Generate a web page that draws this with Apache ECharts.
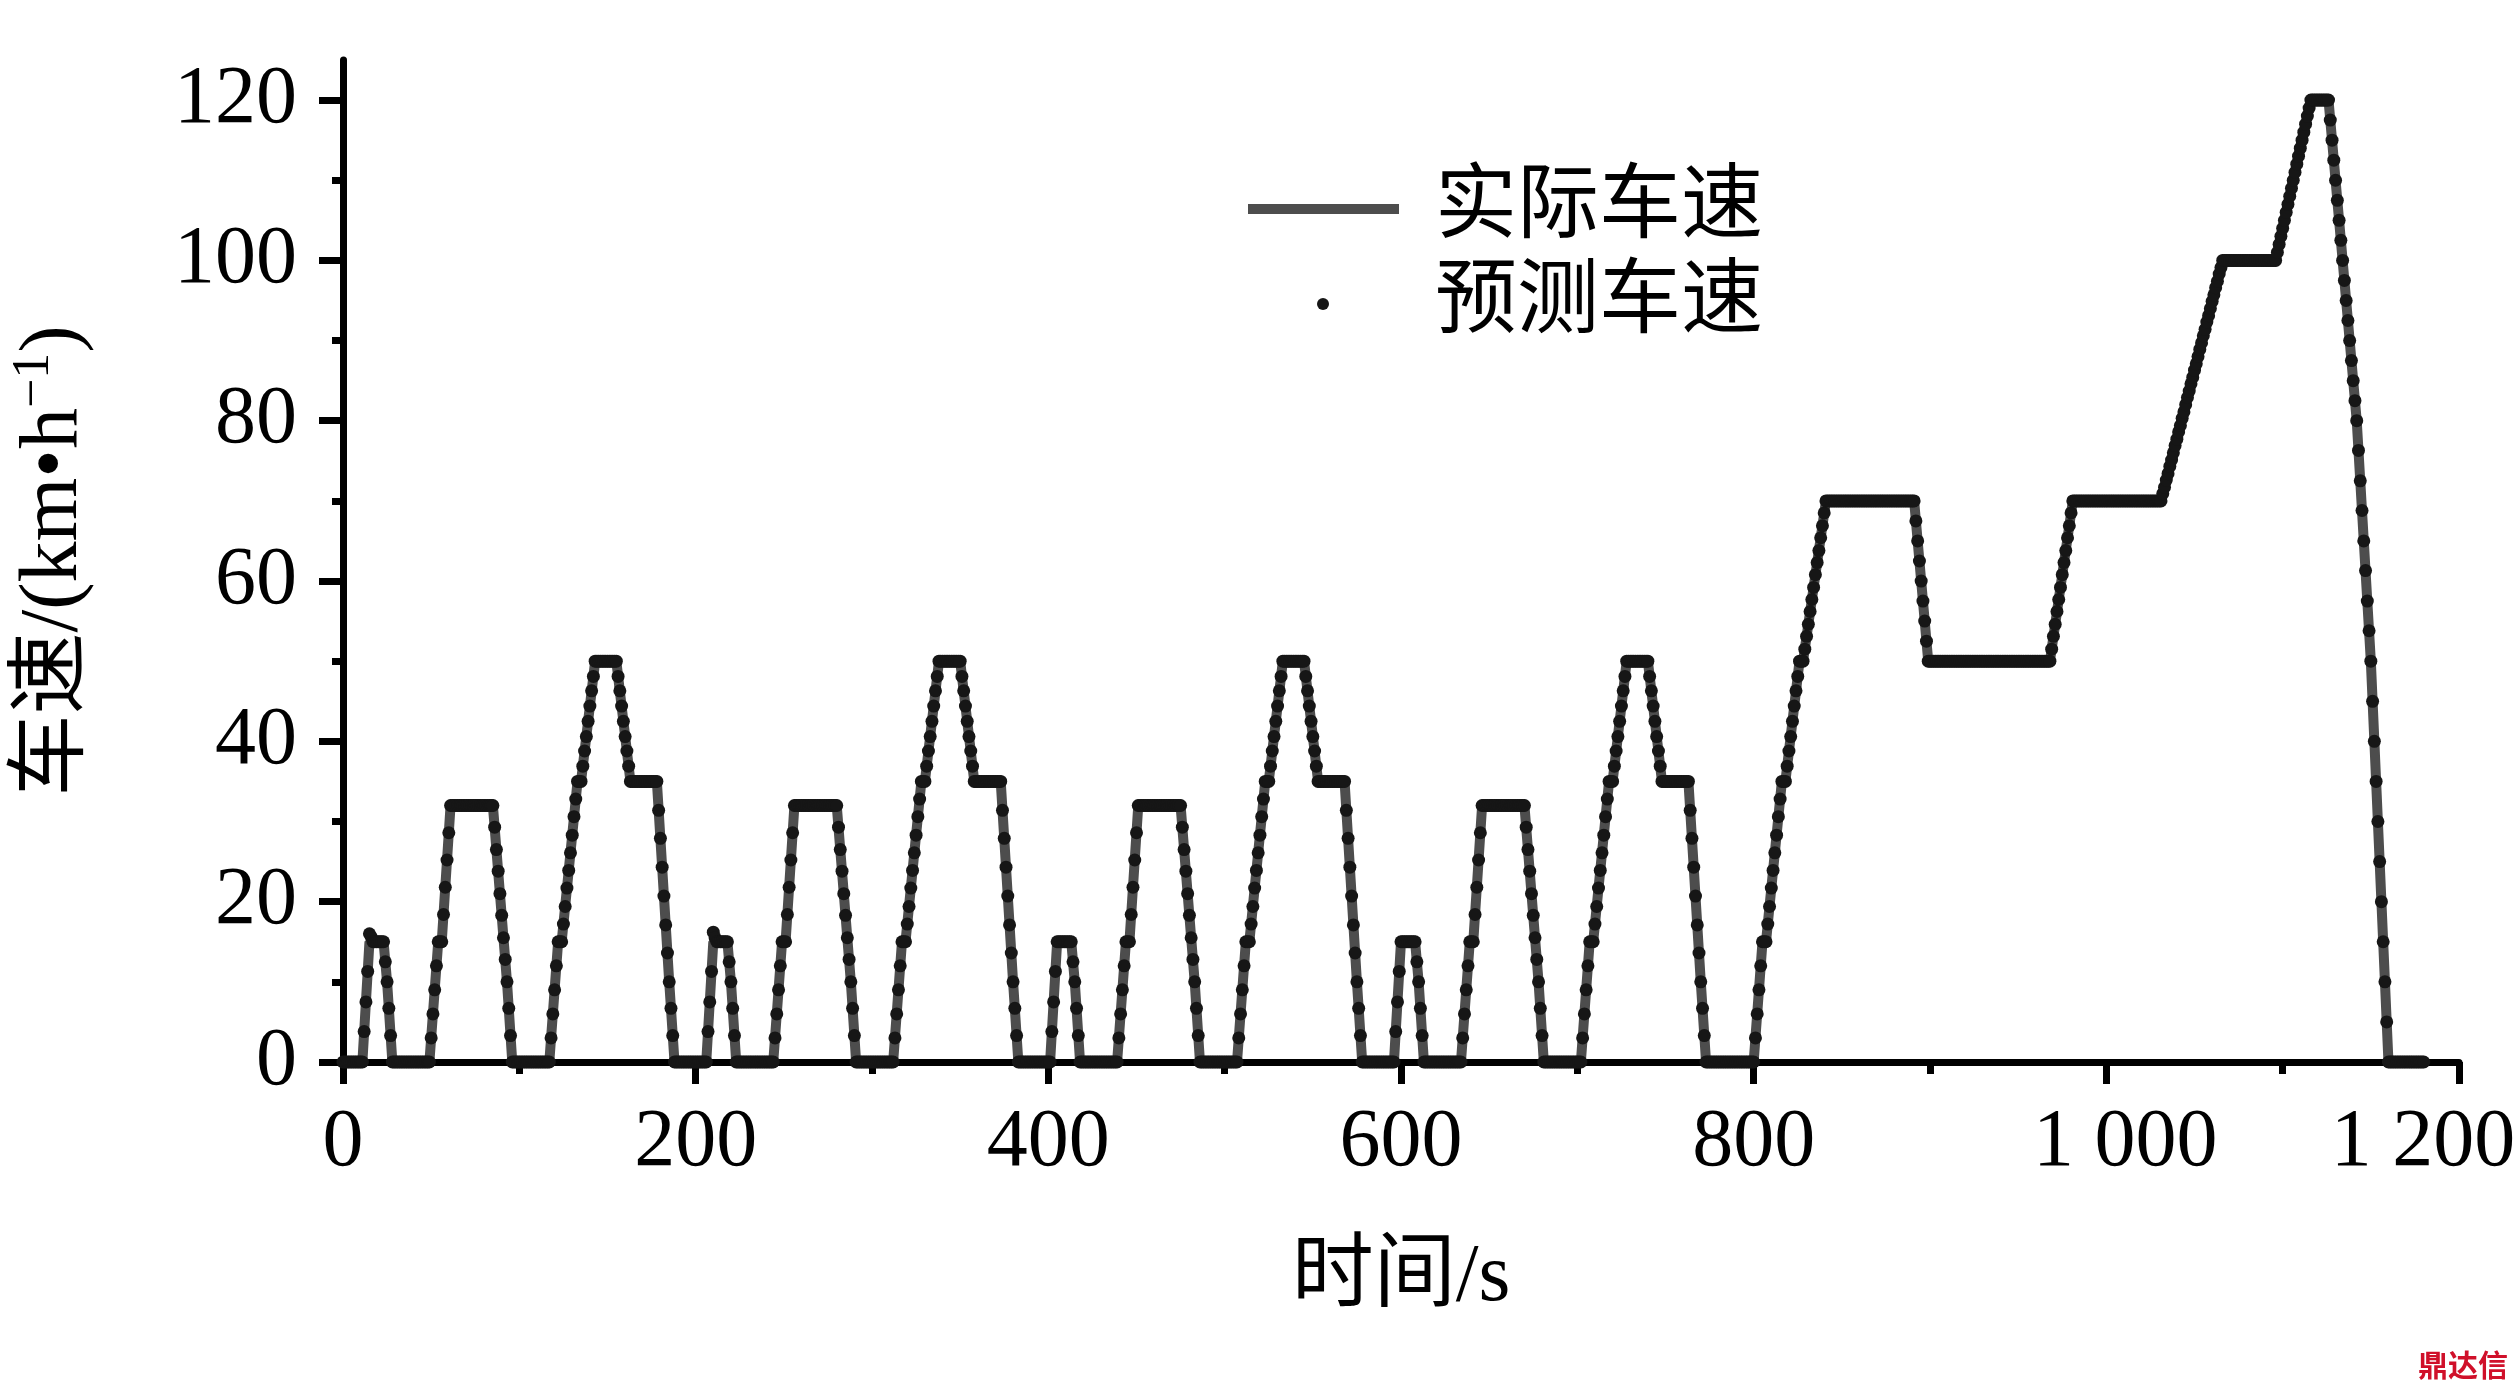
<!DOCTYPE html>
<html>
<head>
<meta charset="utf-8">
<script src="https://cdn.jsdelivr.net/npm/echarts@6/dist/echarts.min.js"></script>
<style>
html,body{margin:0;padding:0;background:#fff;}
#chart{width:2520px;height:1386px;}
</style>
</head>
<body>
<div id="chart"></div>
<script>
// ---------- DATA ----------
const xTickValues = [0, 200, 400, 600, 800, 1000, 1200];
const xTickLabels = ['0', '200', '400', '600', '800', '1 000', '1 200'];
const yTickValues = [0, 20, 40, 60, 80, 100, 120];
const yMinorTickValues = [10, 30, 50, 70, 90, 110];

// actual speed: breakpoints (time s, speed km/h)
const actualTime = [
  0, 11, 15, 23, 25, 28, 49, 54, 56, 61, 85, 93, 96, 117, 122, 124, 133, 135, 143, 155, 163, 178, 185, 188,
  195, 206, 210, 218, 220, 223, 244, 249, 251, 256, 280, 288, 291, 312, 317, 319, 328, 330, 338, 350, 358, 373, 380, 383,
  390, 401, 405, 413, 415, 418, 439, 444, 446, 451, 475, 483, 486, 507, 512, 514, 523, 525, 533, 545, 553, 568, 575, 578,
  585, 596, 600, 608, 610, 613, 634, 639, 641, 646, 670, 678, 681, 702, 707, 709, 718, 720, 728, 740, 748, 763, 770, 773,
  780, 800, 805, 807, 816, 818, 826, 828, 841, 891, 899, 968, 981, 1031, 1066, 1096, 1116, 1126, 1142, 1150, 1160, 1180
];
const actualSpeed = [
  0, 0, 15, 15, 10, 0, 0, 15, 15, 32, 32, 10, 0, 0, 15, 15, 35, 35, 50, 50, 35, 35, 10, 0,
  0, 0, 15, 15, 10, 0, 0, 15, 15, 32, 32, 10, 0, 0, 15, 15, 35, 35, 50, 50, 35, 35, 10, 0,
  0, 0, 15, 15, 10, 0, 0, 15, 15, 32, 32, 10, 0, 0, 15, 15, 35, 35, 50, 50, 35, 35, 10, 0,
  0, 0, 15, 15, 10, 0, 0, 15, 15, 32, 32, 10, 0, 0, 15, 15, 35, 35, 50, 50, 35, 35, 10, 0,
  0, 0, 15, 15, 35, 35, 50, 50, 70, 70, 50, 50, 70, 70, 100, 100, 120, 120, 80, 50, 0, 0
];

// predicted speed, one value per second
const predCycle1 = [ // t = 0..194
  0,0,0,0,0,0,0,0,0,0,0,0,
  3.8,7.5,11.3,16,
  15.6,15,15,15,15,15,15,15,
  12.5,10,6.7,3.3,0,
  0,0,0,0,0,0,0,0,0,0, 0,0,0,0,0,0,0,0,0,0, 0,
  3,6,9,12,15,15,15,
  18.4,21.8,25.2,28.6,32,
  32,32,32,32,32,32,32,32,32,32, 32,32,32,32,32,32,32,32,32,32, 32,32,32,32,
  29.3,26.5,23.8,21,18.3,15.5,12.8,10,
  6.7,3.3,0,
  0,0,0,0,0,0,0,0,0,0, 0,0,0,0,0,0,0,0,0,0, 0,
  3,6,9,12,15,15,15,
  17.2,19.4,21.7,23.9,26.1,28.3,30.6,32.8,35,
  35,35,
  36.9,38.8,40.6,42.5,44.4,46.3,48.1,50,
  50,50,50,50,50,50,50,50,50,50, 50,50,
  48.1,46.3,44.4,42.5,40.6,38.8,36.9,35,
  35,35,35,35,35,35,35,35,35,35, 35,35,35,35,35,
  31.4,27.9,24.3,20.7,17.1,13.6,10,
  6.7,3.3,0,
  0,0,0,0,0,0
];
const predCycle2 = [ // t = 195..389
  0,0,0,0,0,0,0,0,0,0,0,0,
  3.8,7.5,11.3,16.2,
  15.5,15,15,15,15,15,15,15,
  12.5,10,6.7,3.3,0,
  0,0,0,0,0,0,0,0,0,0, 0,0,0,0,0,0,0,0,0,0, 0,
  3,6,9,12,15,15,15,
  18.4,21.8,25.2,28.6,32,
  32,32,32,32,32,32,32,32,32,32, 32,32,32,32,32,32,32,32,32,32, 32,32,32,32,
  29.3,26.5,23.8,21,18.3,15.5,12.8,10,
  6.7,3.3,0,
  0,0,0,0,0,0,0,0,0,0, 0,0,0,0,0,0,0,0,0,0, 0,
  3,6,9,12,15,15,15,
  17.2,19.4,21.7,23.9,26.1,28.3,30.6,32.8,35,
  35,35,
  36.9,38.8,40.6,42.5,44.4,46.3,48.1,50,
  50,50,50,50,50,50,50,50,50,50, 50,50,
  48.1,46.3,44.4,42.5,40.6,38.8,36.9,35,
  35,35,35,35,35,35,35,35,35,35, 35,35,35,35,35,
  31.4,27.9,24.3,20.7,17.1,13.6,10,
  6.7,3.3,0,
  0,0,0,0,0,0
];
const predCycle3 = [ // t = 390..584
  0,0,0,0,0,0,0,0,0,0,0,0,
  3.8,7.5,11.3,15,
  15,15,15,15,15,15,15,15,
  12.5,10,6.7,3.3,0,
  0,0,0,0,0,0,0,0,0,0, 0,0,0,0,0,0,0,0,0,0, 0,
  3,6,9,12,15,15,15,
  18.4,21.8,25.2,28.6,32,
  32,32,32,32,32,32,32,32,32,32, 32,32,32,32,32,32,32,32,32,32, 32,32,32,32,
  29.3,26.5,23.8,21,18.3,15.5,12.8,10,
  6.7,3.3,0,
  0,0,0,0,0,0,0,0,0,0, 0,0,0,0,0,0,0,0,0,0, 0,
  3,6,9,12,15,15,15,
  17.2,19.4,21.7,23.9,26.1,28.3,30.6,32.8,35,
  35,35,
  36.9,38.8,40.6,42.5,44.4,46.3,48.1,50,
  50,50,50,50,50,50,50,50,50,50, 50,50,
  48.1,46.3,44.4,42.5,40.6,38.8,36.9,35,
  35,35,35,35,35,35,35,35,35,35, 35,35,35,35,35,
  31.4,27.9,24.3,20.7,17.1,13.6,10,
  6.7,3.3,0,
  0,0,0,0,0,0
];
const predCycle4 = [ // t = 585..779
  0,0,0,0,0,0,0,0,0,0,0,0,
  3.8,7.5,11.3,15,
  15,15,15,15,15,15,15,15,
  12.5,10,6.7,3.3,0,
  0,0,0,0,0,0,0,0,0,0, 0,0,0,0,0,0,0,0,0,0, 0,
  3,6,9,12,15,15,15,
  18.4,21.8,25.2,28.6,32,
  32,32,32,32,32,32,32,32,32,32, 32,32,32,32,32,32,32,32,32,32, 32,32,32,32,
  29.3,26.5,23.8,21,18.3,15.5,12.8,10,
  6.7,3.3,0,
  0,0,0,0,0,0,0,0,0,0, 0,0,0,0,0,0,0,0,0,0, 0,
  3,6,9,12,15,15,15,
  17.2,19.4,21.7,23.9,26.1,28.3,30.6,32.8,35,
  35,35,
  36.9,38.8,40.6,42.5,44.4,46.3,48.1,50,
  50,50,50,50,50,50,50,50,50,50, 50,50,
  48.1,46.3,44.4,42.5,40.6,38.8,36.9,35,
  35,35,35,35,35,35,35,35,35,35, 35,35,35,35,35,
  31.4,27.9,24.3,20.7,17.1,13.6,10,
  6.7,3.3,0,
  0,0,0,0,0,0
];
const predEUDC = [ // t = 780..1180
  0,0,0,0,0,0,0,0,0,0, 0,0,0,0,0,0,0,0,0,0, 0,
  3,6,9,12,15,
  15,15,
  17.2,19.4,21.7,23.9,26.1,28.3,30.6,32.8,35,
  35,35,
  36.9,38.8,40.6,42.5,44.4,46.3,48.1,50,
  50,50,
  51.5,53.1,54.6,56.2,57.7,59.2,60.8,62.3,63.8,65.4,66.9,68.5,70,
  70,70,70,70,70,70,70,70,70,70, 70,70,70,70,70,70,70,70,70,70,
  70,70,70,70,70,70,70,70,70,70, 70,70,70,70,70,70,70,70,70,70,
  70,70,70,70,70,70,70,70,70,70,
  67.5,65,62.5,60,57.5,55,52.5,50,
  50,50,50,50,50,50,50,50,50,50, 50,50,50,50,50,50,50,50,50,50,
  50,50,50,50,50,50,50,50,50,50, 50,50,50,50,50,50,50,50,50,50,
  50,50,50,50,50,50,50,50,50,50, 50,50,50,50,50,50,50,50,50,50,
  50,50,50,50,50,50,50,50,50,
  51.5,53.1,54.6,56.2,57.7,59.2,60.8,62.3,63.8,65.4,66.9,68.5,70,
  70,70,70,70,70,70,70,70,70,70, 70,70,70,70,70,70,70,70,70,70,
  70,70,70,70,70,70,70,70,70,70, 70,70,70,70,70,70,70,70,70,70,
  70,70,70,70,70,70,70,70,70,70,
  70.9,71.7,72.6,73.4,74.3,75.1,76,76.9,77.7,78.6,79.4,80.3,81.1,82,82.9,83.7,84.6,85.4,
  86.3,87.1,88,88.9,89.7,90.6,91.4,92.3,93.1,94,94.9,95.7,96.6,97.4,98.3,99.1,100,
  100,100,100,100,100,100,100,100,100,100, 100,100,100,100,100,100,100,100,100,100,
  100,100,100,100,100,100,100,100,100,100,
  101,102,103,104,105,106,107,108,109,110,111,112,113,114,115,116,117,118,119,120,
  120,120,120,120,120,120,120,120,120,120,
  117.5,115,112.5,110,107.5,105,102.5,100,97.5,95,92.5,90,87.5,85,82.5,80,
  76.3,72.5,68.8,65,61.3,57.5,53.8,50,
  45,40,35,30,25,20,15,10,5,0,
  0,0,0,0,0,0,0,0,0,0, 0,0,0,0,0,0,0,0,0,0
];
const predSpeed = [].concat(predCycle1, predCycle2, predCycle3, predCycle4, predEUDC);

// ---------- CHART ----------
const SERIF = '"Liberation Serif", "Times New Roman", "Noto Sans CJK SC", serif';
const chart = echarts.init(document.getElementById('chart'), null, {renderer: 'canvas'});
const actualData = actualTime.map((t, i) => [t, actualSpeed[i]]);
const predData = predSpeed.map((v, i) => [i, v]);

chart.setOption({
  animation: false,
  backgroundColor: '#fff',
  grid: {left: 335, right: 61, top: 60, bottom: 324, containLabel: false},
  legend: [
    {
      data: [{name: '实际车速', icon: 'rect'}],
      left: 1243, top: 163, orient: 'vertical',
      itemWidth: 151, itemHeight: 10,
      textStyle: {fontFamily: SERIF, fontSize: 82, color: '#000', padding: [0, 0, 0, 31]},
      selectedMode: false
    },
    {
      data: [{name: '预测车速', icon: 'circle'}],
      left: 1312, top: 258, orient: 'vertical',
      itemWidth: 12, itemHeight: 12,
      textStyle: {fontFamily: SERIF, fontSize: 82, color: '#000', padding: [0, 0, 0, 101]},
      selectedMode: false
    }
  ],
  xAxis: {
    type: 'value', min: 0, max: 1200, interval: 200,
    name: '时间/s', nameLocation: 'middle', nameGap: 175,
    nameTextStyle: {fontFamily: SERIF, fontSize: 82, color: '#000'},
    axisLine: {show: true, onZero: false, lineStyle: {color: '#000', width: 7}},
    axisTick: {show: true, inside: false, length: 22, lineStyle: {color: '#000', width: 7}},
    minorTick: {show: true, splitNumber: 2, length: 12, lineStyle: {color: '#000', width: 7}},
    splitLine: {show: false},
    minorSplitLine: {show: false},
    axisLabel: {
      margin: 40,
      fontFamily: SERIF, fontSize: 82, color: '#000',
      formatter: function (v) {
        const i = xTickValues.indexOf(v);
        if (i < 0) return '';
        const s = xTickLabels[i];
        if (v === 1000) return '{a|' + s + '}';
        if (v === 1200) return '{b|' + s + '}';
        return s;
      },
      rich: {
        a: {fontFamily: SERIF, fontSize: 82, color: '#000', padding: [0, 0, 0, 38]},
        b: {fontFamily: SERIF, fontSize: 82, color: '#000', padding: [0, 72, 0, 0]}
      }
    }
  },
  yAxis: [
    {
      type: 'value', min: 0, max: 125, interval: 20,
      name: '{a|车速/(km•h}{s|−1}{a|)}',
      nameLocation: 'middle', nameGap: 243, nameRotate: 90,
      nameTextStyle: {
        fontFamily: SERIF, fontSize: 82, color: '#000',
        rich: {
          a: {fontFamily: SERIF, fontSize: 82, color: '#000', lineHeight: 92},
          s: {fontFamily: SERIF, fontSize: 52, color: '#000', verticalAlign: 'top', lineHeight: 92}
        }
      },
      axisLine: {show: true, onZero: false, lineStyle: {color: '#000', width: 7}},
      axisTick: {show: true, inside: false, length: 24, customValues: yTickValues, lineStyle: {color: '#000', width: 7}},
      splitLine: {show: false},
      axisLabel: {
        margin: 46, customValues: yTickValues,
        fontFamily: SERIF, fontSize: 82, color: '#000'
      }
    },
    {
      type: 'value', min: 0, max: 125, interval: 10, position: 'left',
      axisLine: {show: false},
      axisTick: {show: true, inside: false, length: 11, customValues: yMinorTickValues, lineStyle: {color: '#000', width: 7}},
      axisLabel: {show: false},
      splitLine: {show: false}
    }
  ],
  series: [
    {
      name: '实际车速', type: 'line', data: actualData,
      showSymbol: false, symbol: 'none',
      lineStyle: {color: '#4d4d4d', width: 10},
      itemStyle: {color: '#4d4d4d'},
      z: 2
    },
    {
      name: '预测车速', type: 'scatter', data: predData,
      symbolSize: 13, large: false,
      itemStyle: {color: '#161616', opacity: 1},
      z: 3
    }
  ],
  graphic: [
    {
      type: 'text', right: 12, bottom: 6,
      style: {text: '鼎达信', fontFamily: '"Noto Sans CJK SC", sans-serif', fontWeight: 'bold', fontSize: 30, fill: '#d0102a'}
    }
  ]
});
</script>
</body>
</html>
